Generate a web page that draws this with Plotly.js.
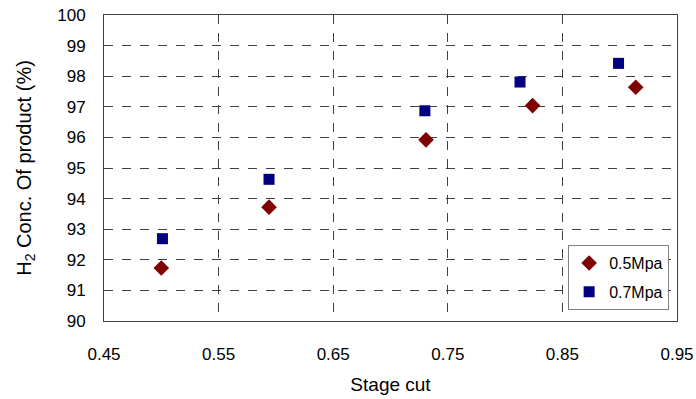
<!DOCTYPE html>
<html>
<head>
<meta charset="utf-8">
<script src="https://cdn.plot.ly/plotly-3.0.1.min.js"></script>
<style>html,body{margin:0;padding:0;background:#fff;}#chart{width:696px;height:399px;}</style>
</head>
<body>
<div id="chart"></div>
<script>
var seriesNames = ["0.5Mpa", "0.7Mpa"];
var stageCut05 = [0.500, 0.594, 0.731, 0.824, 0.914];
var conc05 = [91.73, 93.72, 95.92, 97.04, 97.64];
var stageCut07 = [0.501, 0.594, 0.730, 0.813, 0.899];
var conc07 = [92.69, 94.63, 96.87, 97.81, 98.42];
var xTicks = [0.45, 0.55, 0.65, 0.75, 0.85, 0.95];
var yTicks = [90, 91, 92, 93, 94, 95, 96, 97, 98, 99, 100];

var font = "Liberation Sans, Arial, sans-serif";

var traces = [
  {x: stageCut05, y: conc05, name: seriesNames[0], legendgroup: "a", mode: "markers", type: "scatter",
   marker: {symbol: "diamond", size: 12, color: "#800000"}},
  {x: stageCut07, y: conc07, name: seriesNames[1], legendgroup: "b", mode: "markers", type: "scatter",
   marker: {symbol: "square", size: 11, color: "#000080"}}
];

var layout = {
  width: 696, height: 399,
  margin: {l: 104, r: 19, t: 15, b: 78},
  paper_bgcolor: "#fff", plot_bgcolor: "#fff",
  font: {family: font, size: 17, color: "#000"},
  showlegend: true,
  legend: {x: 0.81, y: 0.248, xanchor: "left", yanchor: "top",
           bgcolor: "#fff", bordercolor: "#808080", borderwidth: 1,
           traceorder: "grouped", tracegroupgap: 5,
           font: {family: font, size: 16, color: "#000"}, itemwidth: 30},
  xaxis: {
    range: [0.45, 0.95], tickvals: xTicks, ticktext: xTicks.map(function(v){return v.toFixed(2);}),
    showgrid: true, gridcolor: "#404040", griddash: "dash", gridwidth: 1,
    showline: true, linecolor: "#404040", linewidth: 1, mirror: true,
    zeroline: false, ticks: "", ticklabelstandoff: 18,
    title: {text: "Stage cut", font: {family: font, size: 19}, standoff: 14}
  },
  yaxis: {
    range: [90, 100], tickvals: yTicks,
    showgrid: true, gridcolor: "#404040", griddash: "dash", gridwidth: 1,
    showline: true, linecolor: "#404040", linewidth: 1, mirror: true,
    zeroline: false, ticks: "", ticklabelstandoff: 14,
    title: {text: "H<sub>2</sub> Conc. Of product (%)", font: {family: font, size: 20}, standoff: 20}
  }
};

Plotly.newPlot("chart", traces, layout, {displayModeBar: false, staticPlot: true});
</script>
</body>
</html>
